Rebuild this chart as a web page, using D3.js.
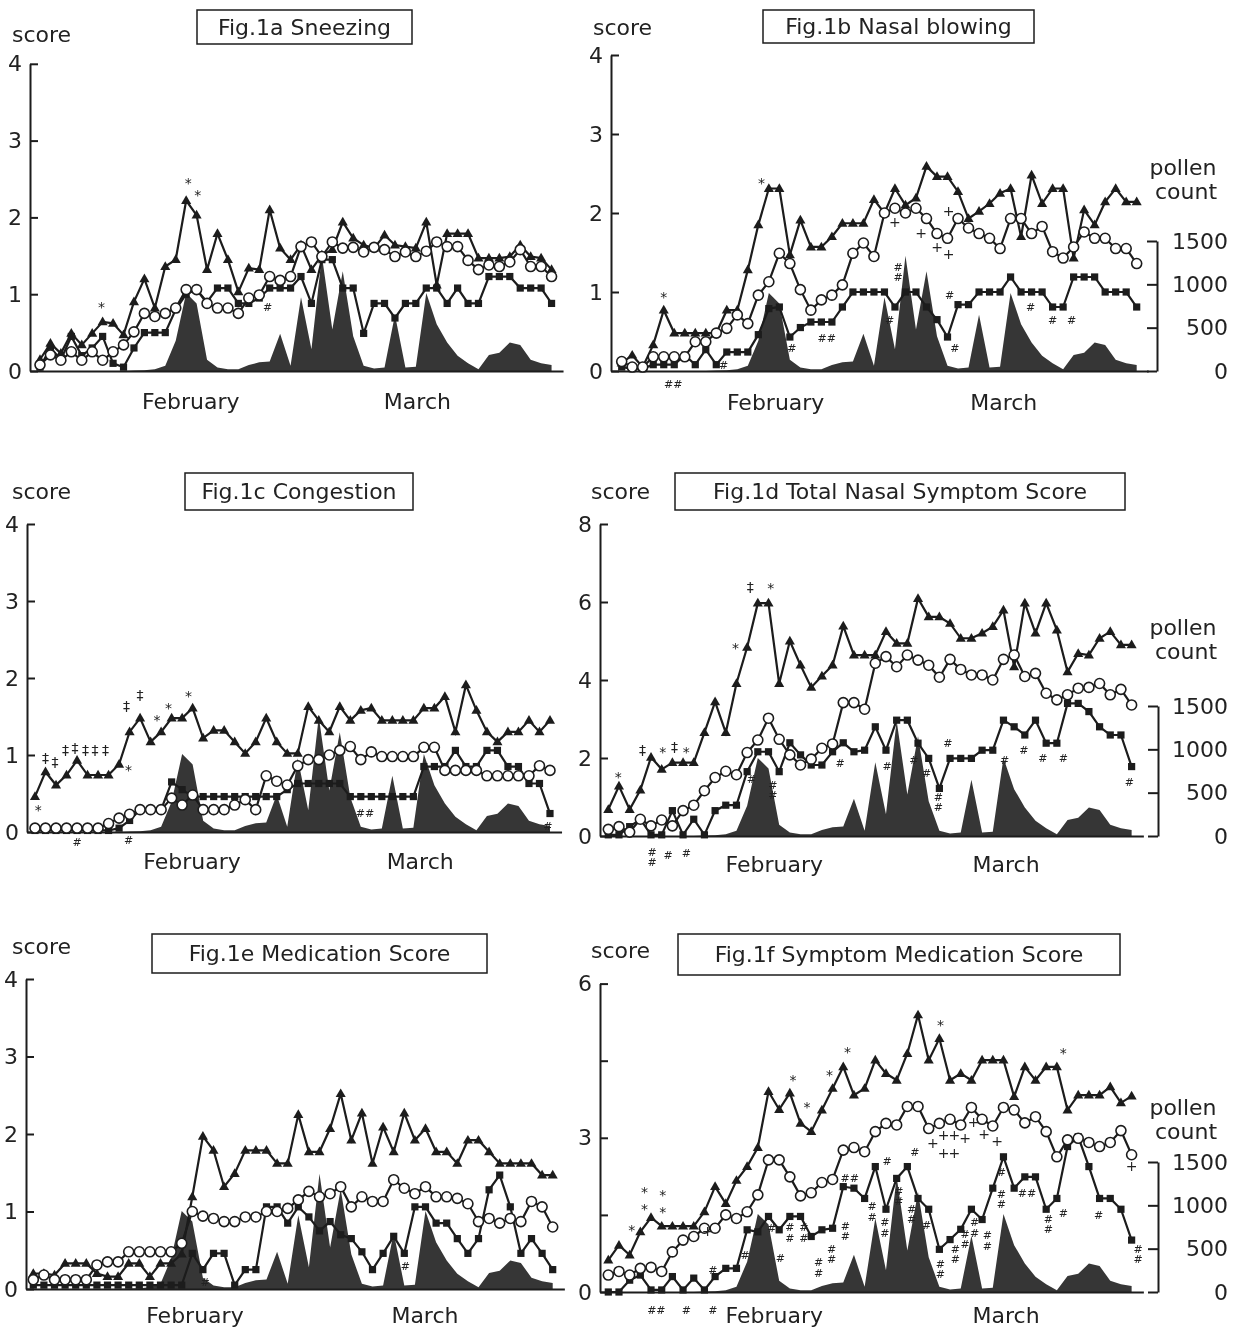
<!DOCTYPE html>
<html>
<head>
<meta charset="utf-8">
<script src="https://cdn.jsdelivr.net/npm/d3@7"></script>
<style>
body{margin:0;background:#fff;}
svg{will-change:transform;}
text{font-family:"DejaVu Sans","Noto Sans",sans-serif;fill:#222;}
</style>
</head>
<body>
<svg id="fig" width="1242" height="1331"></svg>
<script>
var monthTicks = [15, 36.7];
var monthNames = ["February", "March"];
var pollenTicks = [0, 500, 1000, 1500];

var pollenCount = [0,0,0,0,0,0,0,0,0,5, 10,20,60,350,900,780,130,40,20,20,
  70,100,110,430,60,850,250,1330,480,1150, 400,60,30,40,650,40,50,900,540,330,
  175,90,20,185,210,330,300,130,90,70];

var sneezingTri = [0.15,0.36,0.23,0.49,0.34,0.49,0.64,0.62,0.47,0.9, 1.2,0.82,1.36,1.45,2.22,2.03,1.32,1.79,1.45,1.03,
  1.34,1.32,2.1,1.6,1.45,1.64,1.32,1.51,1.58,1.94, 1.73,1.64,1.6,1.77,1.64,1.62,1.6,1.94,1.12,1.79,
  1.79,1.79,1.47,1.47,1.47,1.49,1.64,1.49,1.47,1.32];
var sneezingCirc = [0.08,0.21,0.14,0.25,0.14,0.25,0.14,0.25,0.34,0.51, 0.75,0.71,0.75,0.82,1.06,1.06,0.88,0.82,0.82,0.75,
  0.95,0.99,1.23,1.18,1.23,1.62,1.68,1.49,1.68,1.6, 1.61,1.55,1.61,1.58,1.49,1.55,1.49,1.56,1.68,1.62,
  1.62,1.44,1.32,1.38,1.36,1.42,1.58,1.36,1.36,1.23];
var sneezingSq = [0.05,0.3,0.15,0.45,0.2,0.3,0.45,0.1,0.05,0.3, 0.5,0.5,0.5,0.8,1.0,1.06,0.9,1.08,1.08,0.88,
  0.88,0.95,1.08,1.08,1.08,1.23,0.88,1.45,1.45,1.08, 1.08,0.49,0.88,0.88,0.69,0.88,0.88,1.08,1.08,0.88,
  1.08,0.88,0.88,1.23,1.23,1.23,1.08,1.08,1.08,0.88];
var sneezingNotes = [[14.2,2.45,"*"],[15.1,2.29,"*"],[5.9,0.83,"*"],[21.8,0.83,"#"]];

var blowingTri = [0.1,0.2,0.05,0.33,0.77,0.48,0.48,0.48,0.48,0.48, 0.77,0.77,1.28,1.85,2.31,2.31,1.47,1.91,1.57,1.57,
  1.7,1.87,1.87,1.87,2.17,2.0,2.31,2.1,2.19,2.59, 2.46,2.46,2.27,1.93,2.02,2.12,2.25,2.31,1.7,2.48,
  2.12,2.31,2.31,1.43,2.04,1.85,2.14,2.31,2.14,2.14];
var blowingCirc = [0.12,0.05,0.05,0.18,0.18,0.18,0.18,0.37,0.37,0.48, 0.54,0.71,0.6,0.96,1.13,1.49,1.36,1.03,0.77,0.9,
  0.96,1.09,1.49,1.62,1.45,2.0,2.06,2.0,2.06,1.93, 1.74,1.68,1.93,1.81,1.74,1.68,1.55,1.93,1.93,1.74,
  1.83,1.51,1.43,1.57,1.76,1.68,1.68,1.55,1.55,1.36];
var blowingSq = [0.05,0.03,0.03,0.08,0.08,0.08,0.2,0.08,0.27,0.08, 0.24,0.24,0.24,0.46,0.79,0.81,0.43,0.55,0.62,0.62,
  0.62,0.81,1.0,1.0,1.0,1.0,0.81,1.0,1.0,0.81, 0.65,0.43,0.84,0.84,1.0,1.0,1.0,1.19,1.0,1.0,
  1.0,0.81,0.81,1.19,1.19,1.19,1.0,1.0,1.0,0.81];
var blowingNotes = [[4.0,0.93,"*"],[13.3,2.38,"*"],[4.9,-0.17,"##"],[9.7,0.08,"#"],[16.2,0.29,"#"],[19.5,0.41,"##"],
  [26.0,1.89,"+"],[28.5,1.74,"+"],[30.0,1.57,"+"],[31.1,1.48,"+"],[31.1,2.02,"+"],[26.3,1.24,"#:"],[25.5,0.65,"#"],
  [31.2,0.96,"#"],[31.7,0.29,"#"],[38.9,0.81,"#"],[41.0,0.65,"#"],[42.8,0.65,"#"]];

var congestionTri = [0.46,0.78,0.61,0.74,0.93,0.74,0.74,0.74,0.88,1.3, 1.48,1.17,1.3,1.48,1.48,1.61,1.22,1.32,1.32,1.17,
  1.02,1.17,1.48,1.17,1.02,1.02,1.63,1.45,1.3,1.63, 1.45,1.58,1.61,1.45,1.45,1.45,1.45,1.61,1.61,1.76,
  1.3,1.91,1.58,1.3,1.17,1.3,1.3,1.45,1.3,1.45];
var congestionCirc = [0.05,0.05,0.05,0.05,0.05,0.05,0.05,0.11,0.18,0.23, 0.29,0.29,0.29,0.44,0.35,0.48,0.29,0.29,0.29,0.35,
  0.42,0.29,0.73,0.66,0.61,0.86,0.94,0.94,1.0,1.06, 1.11,0.94,1.04,0.98,0.98,0.98,0.98,1.1,1.1,0.8,
  0.8,0.8,0.8,0.73,0.73,0.73,0.73,0.73,0.86,0.8];
var congestionSq = [0.02,0.02,0.02,0.02,0.02,0.02,0.02,0.02,0.05,0.15, 0.29,0.29,0.29,0.65,0.55,0.46,0.46,0.46,0.46,0.46,
  0.46,0.46,0.46,0.46,0.55,0.63,0.63,0.63,0.63,0.63, 0.46,0.46,0.46,0.46,0.46,0.46,0.46,0.85,0.85,0.85,
  1.06,0.85,0.85,1.06,1.06,0.85,0.85,0.63,0.63,0.24];
var congestionNotes = [[0.3,0.29,"*"],[1.0,0.96,"‡"],[1.9,0.91,"‡"],[2.9,1.06,"‡"],[3.8,1.09,"‡"],[4.8,1.06,"‡"],
  [5.7,1.06,"‡"],[6.7,1.06,"‡"],[8.9,0.8,"*"],[8.7,1.63,"‡"],[10.0,1.78,"‡"],[11.6,1.45,"*"],[12.7,1.61,"*"],
  [14.6,1.76,"*"],[4.0,-0.13,"#"],[8.9,-0.1,"#"],[31.4,0.24,"##"],[48.8,0.07,"#"]];

var totalTri = [0.68,1.28,0.68,1.18,2.02,1.71,1.88,1.88,1.88,2.65, 3.44,2.65,3.91,4.84,5.97,5.97,3.91,5.0,4.38,3.81,
  4.1,4.38,5.38,4.64,4.64,4.64,5.24,4.94,4.94,6.09, 5.62,5.62,5.45,5.07,5.07,5.2,5.37,5.79,4.34,5.97,
  5.2,5.97,5.28,4.21,4.68,4.64,5.07,5.24,4.9,4.9];
var totalCirc = [0.17,0.24,0.1,0.43,0.26,0.41,0.26,0.65,0.79,1.16, 1.5,1.66,1.57,2.14,2.46,3.02,2.48,2.08,1.82,1.97,
  2.25,2.36,3.42,3.42,3.25,4.43,4.6,4.34,4.64,4.51, 4.38,4.07,4.53,4.27,4.13,4.13,4.0,4.53,4.64,4.09,
  4.17,3.66,3.49,3.62,3.79,3.81,3.91,3.62,3.76,3.36];
var totalSq = [0.03,0.03,0.24,0.43,0.03,0.03,0.65,0.03,0.43,0.03, 0.65,0.79,0.79,1.65,2.16,2.16,1.65,2.39,2.08,1.82,
  1.82,2.16,2.39,2.16,2.2,2.8,2.2,2.97,2.97,2.38, 1.99,1.22,1.99,1.99,1.99,2.2,2.2,2.97,2.8,2.59,
  2.97,2.38,2.38,3.4,3.4,3.19,2.8,2.59,2.59,1.78];
var totalNotes = [[0.94,1.52,"*"],[3.2,2.2,"‡"],[5.1,2.16,"*"],[6.2,2.29,"‡"],[7.3,2.16,"*"],[11.9,4.81,"*"],
  [13.3,6.39,"‡"],[15.2,6.35,"*"],[21.7,1.86,"#"],[13.4,1.45,"#"],[15.4,1.15,"#:"],[4.1,-0.56,"#:"],[5.6,-0.5,"#"],
  [7.3,-0.45,"#"],[26.1,1.78,"#"],[28.6,1.95,"#"],[29.8,1.61,"#"],[30.9,0.84,"#:"],[31.8,2.38,"#"],[37.1,1.95,"#"],
  [38.9,2.2,"#"],[40.7,1.99,"#"],[42.6,1.99,"#"],[48.8,1.39,"#"]];

var medicationTri = [0.2,0.2,0.18,0.33,0.33,0.33,0.2,0.16,0.16,0.33, 0.33,0.16,0.33,0.33,0.45,1.19,1.97,1.79,1.32,1.49,
  1.79,1.79,1.79,1.62,1.62,2.25,1.77,1.77,2.07,2.52, 1.92,2.27,1.62,2.09,1.77,2.27,1.92,2.07,1.77,1.77,
  1.62,1.92,1.92,1.77,1.62,1.62,1.62,1.62,1.47,1.47];
var medicationCirc = [0.12,0.18,0.12,0.12,0.12,0.12,0.31,0.35,0.35,0.48, 0.48,0.48,0.48,0.48,0.59,1.0,0.94,0.91,0.87,0.87,
  0.93,0.93,1.0,1.0,1.04,1.15,1.26,1.19,1.23,1.32, 1.06,1.19,1.13,1.13,1.41,1.3,1.23,1.32,1.19,1.19,
  1.17,1.1,0.87,0.91,0.85,0.91,0.87,1.13,1.06,0.8];
var medicationSq = [0.05,0.05,0.05,0.05,0.05,0.05,0.05,0.05,0.05,0.05, 0.05,0.05,0.05,0.05,0.05,0.46,0.25,0.46,0.46,0.05,
  0.25,0.25,1.06,1.06,0.85,1.06,0.93,0.75,0.87,0.7, 0.65,0.48,0.25,0.46,0.68,0.46,1.06,1.06,0.85,0.85,
  0.65,0.46,0.65,1.28,1.47,1.06,0.46,0.65,0.46,0.25];
var medicationNotes = [[16.2,0.09,"#"],[35.1,0.29,"#"]];

var smsTri = [0.62,0.91,0.72,1.17,1.45,1.28,1.28,1.28,1.28,1.56, 2.05,1.72,2.17,2.44,2.81,3.9,3.55,3.87,3.28,3.12,
  3.54,3.96,4.38,3.83,3.96,4.51,4.25,4.12,4.64,5.39, 4.51,4.93,4.12,4.25,4.12,4.51,4.51,4.51,3.8,4.38,
  4.12,4.38,4.38,3.54,3.83,3.83,3.83,3.99,3.68,3.81];
var smsCirc = [0.33,0.4,0.33,0.46,0.48,0.4,0.78,1.01,1.08,1.24, 1.24,1.5,1.43,1.56,1.89,2.57,2.57,2.24,1.87,1.93,
  2.13,2.19,2.76,2.81,2.73,3.12,3.28,3.25,3.61,3.61, 3.18,3.28,3.36,3.25,3.59,3.36,3.23,3.59,3.54,3.29,
  3.41,3.12,2.63,2.96,2.99,2.91,2.83,2.91,3.14,2.67];
var smsSq = [0.0,0.0,0.23,0.33,0.04,0.04,0.3,0.04,0.27,0.04, 0.3,0.46,0.46,1.21,1.17,1.47,1.21,1.47,1.47,1.08,
  1.21,1.24,2.05,2.02,1.82,2.44,1.61,2.21,2.44,1.82, 1.61,0.83,1.02,1.22,1.61,1.41,2.02,2.63,2.02,2.24,
  2.24,1.61,1.82,2.83,3.02,2.44,1.82,1.82,1.61,1.01];
var smsNotes = [[2.2,1.21,"*"],[3.4,1.94,"*"],[3.4,1.62,"*"],[5.1,1.88,"*"],[5.1,1.56,"*"],[9.3,1.19,"+"],[9.8,0.43,"#"],
  [12.8,0.72,"#"],[17.3,4.12,"*"],[18.6,3.6,"*"],[20.7,4.22,"*"],[22.4,4.66,"*"],[15.3,1.25,"#"],[16.1,0.66,"#"],
  [17.0,1.14,"#:"],[18.3,1.14,"#:"],[19.7,0.46,"#:"],[20.9,0.72,"#:"],[22.2,1.17,"#:"],[22.6,2.21,"##"],[24.7,1.55,"#:"],
  [4.5,-0.36,"##"],[7.3,-0.36,"#"],[9.8,-0.36,"#"],[31.1,5.19,"*"],[42.6,4.64,"*"],[30.4,2.89,"+"],
  [31.4,3.05,"+"],[31.4,2.7,"+"],[32.4,3.05,"+"],[32.4,2.7,"+"],[33.4,2.99,"+"],[34.2,3.31,"+"],[35.2,3.07,"+"],
  [36.4,2.94,"+"],[49.0,2.44,"+"],[28.7,2.73,"#"],[26.1,2.54,"#"],[27.2,1.85,"#:"],[25.9,1.24,"#:"],[28.4,1.5,"#:"],
  [29.8,1.3,"#"],[31.1,0.43,"#:"],[32.5,0.72,"#:"],[33.4,1.01,"#:"],[34.3,1.24,"#:"],[35.5,0.98,"#:"],[36.8,2.34,"#"],
  [36.8,1.79,"#:"],[39.2,1.92,"##"],[41.2,1.3,"#:"],[42.6,1.53,"#"],[45.9,1.5,"#"],[49.6,0.72,"#:"]];

// ---- panel layout ----
var panels = [
  {title:"Fig.1a Sneezing", tri:sneezingTri, circ:sneezingCirc, sq:sneezingSq, notes:sneezingNotes,
   yMax:4, yTicks:[0,1,2,3,4], yLabels:[0,1,2,3,4], axisX:30, x0:40, dx:10.44, y0:371, unit:76.8,
   box:[197,10,215,34], score:[12,42], monthPad:22, monthShift:-0.6},
  {title:"Fig.1b Nasal blowing", tri:blowingTri, circ:blowingCirc, sq:blowingSq, notes:blowingNotes,
   yMax:4, yTicks:[0,1,2,3,4], yLabels:[0,1,2,3,4], axisX:611, x0:621.7, dx:10.51, y0:371, unit:79,
   box:[763,10,271,33], score:[593,35], monthPad:23, monthShift:-0.4, right:1157, pollenY:175},
  {title:"Fig.1c Congestion", tri:congestionTri, circ:congestionCirc, sq:congestionSq, notes:congestionNotes,
   yMax:4, yTicks:[0,1,2,3,4], yLabels:[0,1,2,3,4], axisX:27, x0:35, dx:10.51, y0:832, unit:77,
   box:[185,473,228,37], score:[12,499], monthPad:21, monthShift:-0.1},
  {title:"Fig.1d Total Nasal Symptom Score", tri:totalTri, circ:totalCirc, sq:totalSq, notes:totalNotes,
   yMax:8, yTicks:[0,2,4,6,8], yLabels:[0,2,4,6,8], axisX:600, x0:608.3, dx:10.68, y0:836, unit:39,
   box:[675,473,450,37], score:[591,499], monthPad:20, monthShift:0.5, right:1158, pollenY:635},
  {title:"Fig.1e Medication Score", tri:medicationTri, circ:medicationCirc, sq:medicationSq, notes:medicationNotes,
   yMax:4, yTicks:[0,1,2,3,4], yLabels:[0,1,2,3,4], axisX:26, x0:33.3, dx:10.6, y0:1289, unit:77.5,
   box:[152,934,335,39], score:[12,954], monthPad:18, monthShift:0.2},
  {title:"Fig.1f Symptom Medication Score", tri:smsTri, circ:smsCirc, sq:smsSq, notes:smsNotes,
   yMax:6, yTicks:[0,1.5,3,4.5,6], yLabels:[0,3,6], axisX:600, x0:608.3, dx:10.68, y0:1292, unit:51.4,
   box:[678,934,442,41], score:[591,958], monthPad:15, monthShift:0.5, right:1158, pollenY:1115}
];

var ink = "#1c1c1c";
var svg = d3.select("#fig");

panels.forEach(function(p){
  var g = svg.append("g");
  var x = d3.scaleLinear().domain([0,49]).range([p.x0, p.x0 + 49*p.dx]);
  var y = d3.scaleLinear().domain([0,p.yMax]).range([p.y0, p.y0 - p.yMax*p.unit]);
  var yP = d3.scaleLinear().domain([0,1500]).range([p.y0, p.y0 - 130]);

  // pollen area
  g.append("path")
    .datum(pollenCount)
    .attr("fill","#363636")
    .attr("d", d3.area().x(function(d,i){return x(i);}).y0(p.y0).y1(function(d){return yP(d);}));

  // bottom axis
  var xa = d3.scaleLinear().domain([x.invert(p.axisX), 50.1]).range([p.axisX, x(50.1)]);
  var bottom = g.append("g").attr("transform","translate(0,"+p.y0+")")
    .call(d3.axisBottom(xa).tickValues(monthTicks.map(function(m){return m + p.monthShift;}))
      .tickSize(0).tickSizeOuter(0).tickPadding(p.monthPad)
      .tickFormat(function(d,i){return monthNames[i];}));
  // left axis
  var left = g.append("g").attr("transform","translate("+p.axisX+",0)")
    .call(d3.axisLeft(y).tickValues(p.yTicks).tickSize(-8).tickSizeOuter(0).tickPadding(8)
      .tickFormat(function(d){return p.yLabels.indexOf(d) >= 0 ? d : "";}));
  [bottom,left].forEach(function(a){
    a.attr("font-size",null).attr("font-family",null);
    a.selectAll("path,line").attr("stroke",ink).attr("stroke-width",2);
    a.selectAll("text").attr("font-size",22).attr("fill","#222");
  });

  // right pollen axis
  if (p.right) {
    var right = g.append("g").attr("transform","translate("+p.right+",0)")
      .call(d3.axisRight(yP).tickValues(pollenTicks).tickSize(-10).tickSizeOuter(0).tickFormat(d3.format("d")));
    right.attr("font-size",null).attr("font-family",null);
    right.selectAll("path,line").attr("stroke",ink).attr("stroke-width",2);
    right.selectAll("text").attr("font-size",22).attr("fill","#222")
      .attr("x",1228-p.right).attr("text-anchor","end");
    g.append("text").attr("x",1183).attr("y",p.pollenY).attr("text-anchor","middle")
      .attr("font-size",22).text("pollen");
    g.append("text").attr("x",1186).attr("y",p.pollenY+24).attr("text-anchor","middle")
      .attr("font-size",22).text("count");
  }

  // title box and score label
  g.append("rect").attr("x",p.box[0]).attr("y",p.box[1]).attr("width",p.box[2]).attr("height",p.box[3])
    .attr("fill","none").attr("stroke",ink).attr("stroke-width",1.5);
  g.append("text").attr("x",p.box[0]+p.box[2]/2).attr("y",p.box[1]+p.box[3]/2).attr("dy","0.36em")
    .attr("text-anchor","middle").attr("font-size",22).text(p.title);
  g.append("text").attr("x",p.score[0]).attr("y",p.score[1]).attr("font-size",22).text("score");

  var line = d3.line().x(function(d,i){return x(i);}).y(function(d){return y(d);});

  // squares
  g.append("path").datum(p.sq).attr("fill","none").attr("stroke",ink).attr("stroke-width",2.2).attr("d",line);
  g.selectAll(".sq").data(p.sq).enter().append("rect").attr("class","sq")
    .attr("x",function(d,i){return x(i)-3.6;}).attr("y",function(d){return y(d)-3.6;})
    .attr("width",7.2).attr("height",7.2).attr("fill",ink);
  // triangles
  g.append("path").datum(p.tri).attr("fill","none").attr("stroke",ink).attr("stroke-width",2.2).attr("d",line);
  g.selectAll(".tri").data(p.tri).enter().append("path").attr("class","tri")
    .attr("d",d3.symbol().type(d3.symbolTriangle).size(44))
    .attr("transform",function(d,i){return "translate("+x(i)+","+(y(d)+0.5)+")";}).attr("fill",ink);
  // circles
  g.append("path").datum(p.circ).attr("fill","none").attr("stroke",ink).attr("stroke-width",2.2).attr("d",line);
  g.selectAll(".circ").data(p.circ).enter().append("circle").attr("class","circ")
    .attr("cx",function(d,i){return x(i);}).attr("cy",function(d){return y(d);})
    .attr("r",5).attr("fill","#fff").attr("stroke",ink).attr("stroke-width",1.6);

  // significance marks; "#:" means two hashes stacked vertically
  var ng = g.append("g");
  p.notes.forEach(function(n){
    var stacked = n[2].slice(-1) === ":";
    var s = stacked ? n[2].slice(0,-1) : n[2];
    var t = ng.append("text").attr("text-anchor","middle")
      .attr("font-size", s.charAt(0) === "#" ? 11 : 14).attr("fill","#333");
    if (stacked) {
      t.append("tspan").attr("x",x(n[0])).attr("y",y(n[1])).attr("dy","-0.2em").text(s);
      t.append("tspan").attr("x",x(n[0])).attr("dy","0.95em").text(s);
    } else {
      t.attr("x",x(n[0])).attr("y",y(n[1])).attr("dy","0.35em").text(s);
    }
  });
});
</script>
</body>
</html>
